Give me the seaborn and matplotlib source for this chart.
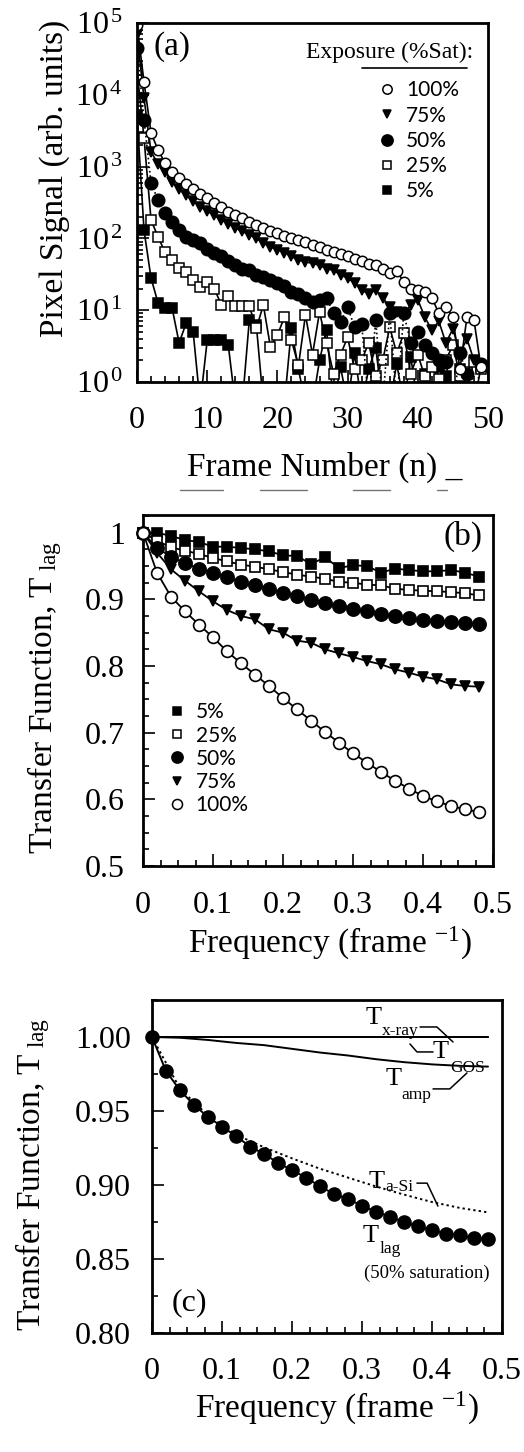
import numpy as np
import matplotlib
matplotlib.use("Agg")
import matplotlib.pyplot as plt
from matplotlib.lines import Line2D
from matplotlib.ticker import FixedLocator, MultipleLocator, LogLocator, NullFormatter
import seaborn as sns

sns.set_theme(style="ticks", rc={
    "axes.edgecolor": "black", "xtick.color": "black", "ytick.color": "black",
    "text.color": "black", "axes.labelcolor": "black",
})
plt.rcParams["font.family"] = ["Liberation Serif", "DejaVu Serif"]
plt.rcParams["mathtext.fontset"] = "custom"
plt.rcParams["mathtext.rm"] = "Liberation Serif"
plt.rcParams["mathtext.it"] = "Liberation Serif:italic"
plt.rcParams["mathtext.bf"] = "Liberation Serif:bold"

# ---------------- (a) lag signal vs. frame number ----------------
frames = np.arange(50)
exposures = ["100%", "75%", "50%", "25%", "5%"]
sig_100 = [95000, 15000, 2950, 1700, 1120, 840, 690, 575, 480, 420,
           360, 310, 270, 235, 210, 190, 170, 155, 140, 128,
           118, 108, 100, 95, 88, 82, 76, 70, 64, 60,
           56, 52, 48, 44, 42, 38, 33, 35, 25, 20,
           19, 18, 15, 9, 11, 8, 1.5, 8, 7.3, 1.6]
sig_75 = [68000, 9000, 1600, 1100, 840, 610, 480, 400, 330, 275,
          240, 210, 180, 160, 140, 125, 112, 100, 86, 76,
          70, 63, 56, 50, 47, 45, 42, 38, 36, 31,
          28, 24, 19, 17, 19, 15, 11, 9.5, 8.6, 12,
          14, 8, 5.3, 7, 3.5, 5.5, 2.5, 4, 2, 1.6]
sig_50 = [45000, 4500, 590, 340, 225, 170, 130, 105, 95, 86,
          72, 62, 56, 48, 42, 38, 36, 31, 29, 26,
          24, 22, 18, 17, 15, 13, 14, 15, 9, 6.9,
          11, 5.8, 6.5, 0.5, 7.3, 0.5, 9.2, 0.5, 9, 3.5,
          5, 3.3, 2.5, 2, 1.9, 0.5, 2.5, 1.3, 0.5, 1.8]
sig_25 = [22000, 2500, 180, 105, 64, 50, 39, 34, 26, 21,
          25, 20, 12, 16, 11.4, 11.4, 11.4, 5.6, 11.8, 3.1,
          4.5, 8, 3.8, 1.7, 8.6, 2.4, 9.4, 3.5, 1.3, 2.4,
          4.2, 1.5, 2.0, 3.5, 1.2, 2.0, 5.8, 2.5, 4.8, 1.3,
          2.4, 1.2, 1.6, 1.1, 2.0, 3.3, 1.2, 1.4, 1.9, 1.5]
sig_5 = [5200, 130, 28, 12.6, 10.7, 10.7, 3.5, 6.6, 5, 0.5,
         3.8, 3.8, 3.8, 3.3, 0.5, 0.5, 7.3, 6.2, 0.5, 0.5,
         0.5, 0.5, 5.6, 1.5, 0.5, 0.5, 2.0, 5.3, 0.5, 1.6,
         0.5, 2.5, 0.5, 1.5, 3.0, 0.5, 0.5, 1.8, 0.5, 2.2,
         0.5, 1.3, 0.5, 1.6, 1.2, 0.5, 1.5, 1.3, 0.5, 1.6]
decade_ticks = [1, 10, 100, 1000, 10000, 100000]
decade_labels = [r"$\mathregular{10^{\,%d}}$" % k for k in range(6)]

# ---------------- (b) lag transfer function ----------------
freq = np.round(np.arange(25) * 0.02, 2)
tlag_5 = [1.0, 1.0, 0.995, 0.989, 0.986, 0.979, 0.979, 0.977, 0.975, 0.972,
          0.966, 0.965, 0.953, 0.963, 0.947, 0.951, 0.950, 0.940, 0.946, 0.944,
          0.942, 0.942, 0.944, 0.940, 0.934]
tlag_25 = [1.0, 0.988, 0.978, 0.973, 0.968, 0.962, 0.957, 0.952, 0.949, 0.945,
           0.941, 0.937, 0.934, 0.931, 0.926, 0.925, 0.922, 0.921, 0.916, 0.914,
           0.913, 0.912, 0.911, 0.909, 0.906]
tlag_50 = [1.0, 0.977, 0.964, 0.954, 0.946, 0.9395, 0.933, 0.926, 0.921, 0.915,
           0.910, 0.905, 0.899, 0.894, 0.8905, 0.886, 0.882, 0.8785, 0.875, 0.872,
           0.8695, 0.867, 0.866, 0.864, 0.8635]
tlag_75 = [1.0, 0.970, 0.945, 0.928, 0.912, 0.897, 0.884, 0.875, 0.870, 0.855,
           0.850, 0.838, 0.835, 0.825, 0.819, 0.8135, 0.8075, 0.8025, 0.795, 0.790,
           0.784, 0.780, 0.7725, 0.770, 0.769]
tlag_100 = [1.0, 0.940, 0.904, 0.882, 0.862, 0.843, 0.822, 0.804, 0.787, 0.770,
            0.752, 0.735, 0.718, 0.701, 0.685, 0.669, 0.655, 0.641, 0.628, 0.616,
            0.605, 0.597, 0.590, 0.585, 0.581]
b_yticks = [0.5, 0.6, 0.7, 0.8, 0.9, 1.0]
b_ylabels = ["0.5", "0.6", "0.7", "0.8", "0.9", "1"]
freq_ticks = [0, 0.1, 0.2, 0.3, 0.4, 0.5]
freq_labels = ["0", "0.1", "0.2", "0.3", "0.4", "0.5"]

# ---------------- (c) component transfer functions ----------------
freq_c = np.round(np.arange(13) * 0.04, 2)
t_xray = [1.0, 1.0, 1.0, 1.0, 1.0, 1.0, 1.0, 1.0, 1.0, 1.0, 1.0, 1.0, 1.0]
t_gos = [1.0, 1.0, 1.0, 1.0, 1.0, 1.0, 1.0, 1.0, 1.0, 1.0, 1.0, 1.0, 1.0]
t_amp = [1.0, 0.9995, 0.998, 0.996, 0.9945, 0.992, 0.9895, 0.9875, 0.985,
         0.983, 0.9815, 0.9805, 0.980]
t_asi = [1.0, 0.965, 0.947, 0.934, 0.9255, 0.918, 0.911, 0.905, 0.899,
         0.8935, 0.8885, 0.8845, 0.8815]
c_yticks = [0.80, 0.85, 0.90, 0.95, 1.00]
c_ylabels = ["0.80", "0.85", "0.90", "0.95", "1.00"]

# marker styles per exposure level
STYLE_A = {
    "100%": dict(marker="o", mfc="white", ms=7.5, ls="-"),
    "75%": dict(marker="v", mfc="black", ms=6.5, ls="-"),
    "50%": dict(marker="o", mfc="black", ms=9, ls=":"),
    "25%": dict(marker="s", mfc="white", ms=6.5, ls="-"),
    "5%": dict(marker="s", mfc="black", ms=6.5, ls="-"),
}
STYLE_B = {
    "100%": dict(marker="o", mfc="white", ms=8.5),
    "75%": dict(marker="v", mfc="black", ms=7),
    "50%": dict(marker="o", mfc="black", ms=9.5),
    "25%": dict(marker="s", mfc="white", ms=6.5),
    "5%": dict(marker="s", mfc="black", ms=7),
}
LEG_FONT = {"family": ["Lato", "DejaVu Sans"], "size": 15}

W, H = 524, 1452
fig = plt.figure(figsize=(W / 100, H / 100), dpi=100)


def px_axes(left, top, right, bottom):
    return fig.add_axes([left / W, 1 - bottom / H, (right - left) / W, (bottom - top) / H])


def style_axes(ax):
    for sp in ax.spines.values():
        sp.set_linewidth(2.0)
        sp.set_color("black")
    ax.tick_params(which="both", direction="in", top=False, right=False,
                   left=True, bottom=True, width=1.2, colors="black")
    ax.tick_params(which="major", length=8.5, labelsize=23)
    ax.tick_params(which="minor", length=4)


# ================= panel (a) =================
ax_a = px_axes(137, 23, 488, 382)
series_a = {"100%": sig_100, "75%": sig_75, "50%": sig_50, "25%": sig_25, "5%": sig_5}
for name in ["5%", "25%", "50%", "75%", "100%"]:
    st = STYLE_A[name]
    sns.lineplot(x=frames, y=series_a[name], ax=ax_a, color="black",
                 linewidth=1.2, linestyle=st["ls"], marker=st["marker"],
                 markersize=st["ms"], markerfacecolor=st["mfc"],
                 markeredgecolor="black", markeredgewidth=1.1)
ax_a.set_yscale("log")
ax_a.set_xlim(0, 50)
ax_a.set_ylim(1, 1e5)
style_axes(ax_a)
ax_a.yaxis.set_major_locator(FixedLocator(decade_ticks))
ax_a.set_yticklabels(decade_labels)
ax_a.yaxis.set_minor_locator(LogLocator(base=10, subs=np.arange(2, 10), numticks=20))
ax_a.yaxis.set_minor_formatter(NullFormatter())
ax_a.xaxis.set_major_locator(MultipleLocator(10))
ax_a.xaxis.set_minor_locator(MultipleLocator(2))
ax_a.tick_params(axis="x", which="major", pad=17)
ax_a.tick_params(axis="y", which="major", pad=10)
ax_a.set_ylabel("Pixel Signal (arb. units)", fontsize=24, va="center")
ax_a.yaxis.set_label_coords(-0.234, 0.568)
ax_a.set_xlabel("Frame Number (n) _", fontsize=24, va="baseline")
ax_a.xaxis.set_label_coords(0.536, -0.262)
ax_a.text(0.046, 0.933, "(a)", transform=ax_a.transAxes, fontsize=24,
          ha="left", va="center")
ax_a.text(0.957, 0.919, "Exposure (%Sat):", transform=ax_a.transAxes, fontsize=17,
          ha="right", va="center")
ax_a.plot([0.641, 0.94], [0.875, 0.875], transform=ax_a.transAxes, color="black", lw=1.2)
handles_a = [Line2D([], [], ls="none", marker=STYLE_A[n]["marker"], mfc=STYLE_A[n]["mfc"],
                    mec="black", mew=1.1, ms=STYLE_A[n]["ms"] * 0.9) for n in exposures]
ax_a.legend(handles_a, exposures, loc="upper left", bbox_to_anchor=(0.689, 0.84),
            frameon=False, prop=LEG_FONT, handlelength=0.8, handletextpad=0.5,
            labelspacing=0.25, borderpad=0, borderaxespad=0)

# scan marks under the frame-number label
for x0, x1 in [(180, 223), (260, 307), (353, 390), (437, 447)]:
    fig.add_artist(Line2D([x0 / W, x1 / W], [1 - 490 / H] * 2, color="0.45", lw=1.0))

# ================= panel (b) =================
ax_b = px_axes(143, 515, 493, 866)
series_b = {"5%": tlag_5, "25%": tlag_25, "50%": tlag_50, "75%": tlag_75, "100%": tlag_100}
for name in ["5%", "25%", "50%", "75%", "100%"]:
    st = STYLE_B[name]
    sns.lineplot(x=freq, y=series_b[name], ax=ax_b, color="black", linewidth=1.3,
                 marker=st["marker"], markersize=st["ms"], markerfacecolor=st["mfc"],
                 markeredgecolor="black", markeredgewidth=1.2, clip_on=False, zorder=3)
ax_b.set_xlim(0, 0.5)
ax_b.set_ylim(0.5, 1.0265)
style_axes(ax_b)
ax_b.yaxis.set_major_locator(FixedLocator(b_yticks))
ax_b.set_yticklabels(b_ylabels)
ax_b.yaxis.set_minor_locator(MultipleLocator(0.025))
ax_b.xaxis.set_major_locator(FixedLocator(freq_ticks))
ax_b.set_xticklabels(freq_labels)
ax_b.xaxis.set_minor_locator(MultipleLocator(0.025))
ax_b.tick_params(axis="x", which="major", pad=18)
ax_b.tick_params(axis="y", which="major", pad=13)
ax_b.set_ylabel(r"Transfer Function, T$_{\ \mathregular{lag}}$", fontsize=24, va="center")
ax_b.yaxis.set_label_coords(-0.28, 0.479)
ax_b.set_xlabel(r"Frequency (frame $^{\mathregular{-1}}$)", fontsize=24, va="baseline")
ax_b.xaxis.set_label_coords(0.534, -0.248)
ax_b.text(0.971, 0.94, "(b)", transform=ax_b.transAxes, fontsize=24,
          ha="right", va="center")
leg_order_b = ["5%", "25%", "50%", "75%", "100%"]
handles_b = [Line2D([], [], ls="none", marker=STYLE_B[n]["marker"], mfc=STYLE_B[n]["mfc"],
                    mec="black", mew=1.1, ms=STYLE_B[n]["ms"] * 0.85) for n in leg_order_b]
ax_b.legend(handles_b, leg_order_b, loc="upper left", bbox_to_anchor=(0.073, 0.466),
            frameon=False, prop=LEG_FONT, handlelength=0.8, handletextpad=0.5,
            labelspacing=0.15, borderpad=0, borderaxespad=0)

# ================= panel (c) =================
ax_c = px_axes(152, 1000, 502, 1333)
sns.lineplot(x=freq_c, y=t_xray, ax=ax_c, color="black", linewidth=1.4)
sns.lineplot(x=freq_c, y=t_gos, ax=ax_c, color="black", linewidth=1.4)
sns.lineplot(x=freq_c, y=t_amp, ax=ax_c, color="black", linewidth=1.4)
sns.lineplot(x=freq_c, y=t_asi, ax=ax_c, color="black", linewidth=1.4, linestyle=(0, (1.2, 1.6)))
sns.lineplot(x=freq, y=tlag_50, ax=ax_c, color="black", linewidth=1.4, marker="o",
             markersize=9.5, markerfacecolor="black", markeredgecolor="black",
             markeredgewidth=1.0, clip_on=False, zorder=3)
ax_c.set_xlim(0, 0.5)
ax_c.set_ylim(0.80, 1.025)
style_axes(ax_c)
ax_c.yaxis.set_major_locator(FixedLocator(c_yticks))
ax_c.set_yticklabels(c_ylabels)
ax_c.yaxis.set_minor_locator(MultipleLocator(0.025))
ax_c.xaxis.set_major_locator(FixedLocator(freq_ticks))
ax_c.set_xticklabels(freq_labels)
ax_c.xaxis.set_minor_locator(MultipleLocator(0.025))
ax_c.tick_params(axis="x", which="major", pad=17)
ax_c.tick_params(axis="y", which="major", pad=15)
ax_c.set_ylabel(r"Transfer Function, T$_{\ \mathregular{lag}}$", fontsize=24, va="center")
ax_c.yaxis.set_label_coords(-0.34, 0.477)
ax_c.set_xlabel(r"Frequency (frame $^{\mathregular{-1}}$)", fontsize=24, va="baseline")
ax_c.xaxis.set_label_coords(0.529, -0.255)
ax_c.text(0.057, 0.09, "(c)", transform=ax_c.transAxes, fontsize=23,
          ha="left", va="center")

# curve labels with leader lines
T_SIZE, SUB_SIZE = 19, 12.5
labels_c = [
    ((0.634, 0.946), (0.709, 0.907), "x-ray",
     [(0.766, 0.919), (0.814, 0.919), (0.86, 0.874)]),
    ((0.826, 0.843), (0.903, 0.796), "GOS",
     [(0.737, 0.868), (0.757, 0.844), (0.803, 0.844)]),
    ((0.691, 0.763), (0.754, 0.715), "amp",
     [(0.803, 0.733), (0.851, 0.733), (0.90, 0.781)]),
    ((0.643, 0.453), (0.706, 0.438), "a-Si",
     [(0.757, 0.450), (0.786, 0.450), (0.817, 0.381)]),
    ((0.626, 0.291), (0.680, 0.252), "lag", None),
]
for (tx, ty), (sx, sy), sub, leader in labels_c:
    ax_c.text(tx, ty, "T", transform=ax_c.transAxes, fontsize=T_SIZE, ha="center", va="center")
    ax_c.text(sx, sy, sub, transform=ax_c.transAxes, fontsize=SUB_SIZE, ha="center", va="center")
    if leader:
        lx, ly = zip(*leader)
        ax_c.plot(lx, ly, transform=ax_c.transAxes, color="black", lw=1.1)
ax_c.text(0.786, 0.18, "(50% saturation)", transform=ax_c.transAxes, fontsize=13.5,
          ha="center", va="center")

fig.savefig("out.png", dpi=100)
